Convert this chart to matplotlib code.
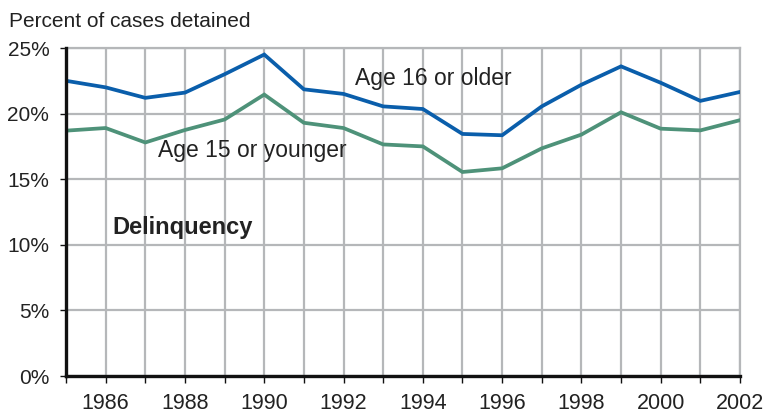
import matplotlib
matplotlib.use("Agg")
import matplotlib.pyplot as plt
from matplotlib.ticker import MultipleLocator, FuncFormatter

years = list(range(1985, 2003))
age16_older = [22.5, 22.0, 21.2, 21.6, 23.0, 24.5, 21.85, 21.5, 20.55, 20.35,
               18.45, 18.35, 20.55, 22.2, 23.6, 22.35, 20.97, 21.65]
age15_younger = [18.7, 18.9, 17.8, 18.75, 19.55, 21.45, 19.3, 18.9, 17.65, 17.5,
                 15.55, 15.83, 17.35, 18.4, 20.1, 18.85, 18.72, 19.5]
y_ticks = [0, 5, 10, 15, 20, 25]
x_labels = [1986, 1988, 1990, 1992, 1994, 1996, 1998, 2000, 2002]

plt.rcParams['font.family'] = ['Liberation Sans', 'DejaVu Sans']
fig = plt.figure(figsize=(7.67, 4.13), dpi=100)
ax = fig.add_axes([66/767, 1-376/413, (740-66)/767, (376-48)/413])

grid_c = '#b5b7b9'
blue = '#0a5eab'
green = '#4e9279'

ax.plot(years, age16_older, color=blue, lw=2.7, solid_joinstyle='miter', zorder=3)
ax.plot(years, age15_younger, color=green, lw=2.7, solid_joinstyle='miter', zorder=3)

ax.set_xlim(1985, 2002)
ax.set_ylim(0, 25)
ax.set_yticks(y_ticks)
ax.yaxis.set_major_formatter(FuncFormatter(lambda v, p: f"{int(v)}%"))
ax.set_xticks(x_labels)
ax.set_xticklabels([str(x) for x in x_labels])
ax.xaxis.set_minor_locator(MultipleLocator(1))

ax.grid(True, which='both', axis='x', color=grid_c, lw=1.6, zorder=0)
ax.grid(True, which='major', axis='y', color=grid_c, lw=1.6, zorder=0)
ax.set_axisbelow(True)

for s in ['top', 'right']:
    ax.spines[s].set_color(grid_c)
    ax.spines[s].set_linewidth(1.6)
for s in ['left', 'bottom']:
    ax.spines[s].set_color('#111111')
    ax.spines[s].set_linewidth(2.4)
    ax.spines[s].set_zorder(4)

ax.tick_params(axis='y', which='major', length=4, width=1, color='#111111',
               labelsize=15, pad=8, labelcolor='#222222')
ax.tick_params(axis='x', which='both', length=5, width=1, color='#111111',
               labelsize=15.5, pad=7, labelcolor='#222222')

fig.text(9/767, 1-26.7/413, "Percent of cases detained", fontsize=15,
         color='#222222', ha='left', va='baseline')

ax.text(1992.3, 22.15, "Age 16 or older", fontsize=16.5, color='#222222',
        ha='left', va='baseline', zorder=5)
ax.text(1987.32, 16.67, "Age 15 or younger", fontsize=16.5, color='#222222',
        ha='left', va='baseline', zorder=5)
ax.text(1986.18, 10.85, "Delinquency", fontsize=17, fontweight='bold',
        color='#222222', ha='left', va='baseline', zorder=5)

fig.savefig("out.png", dpi=100)
